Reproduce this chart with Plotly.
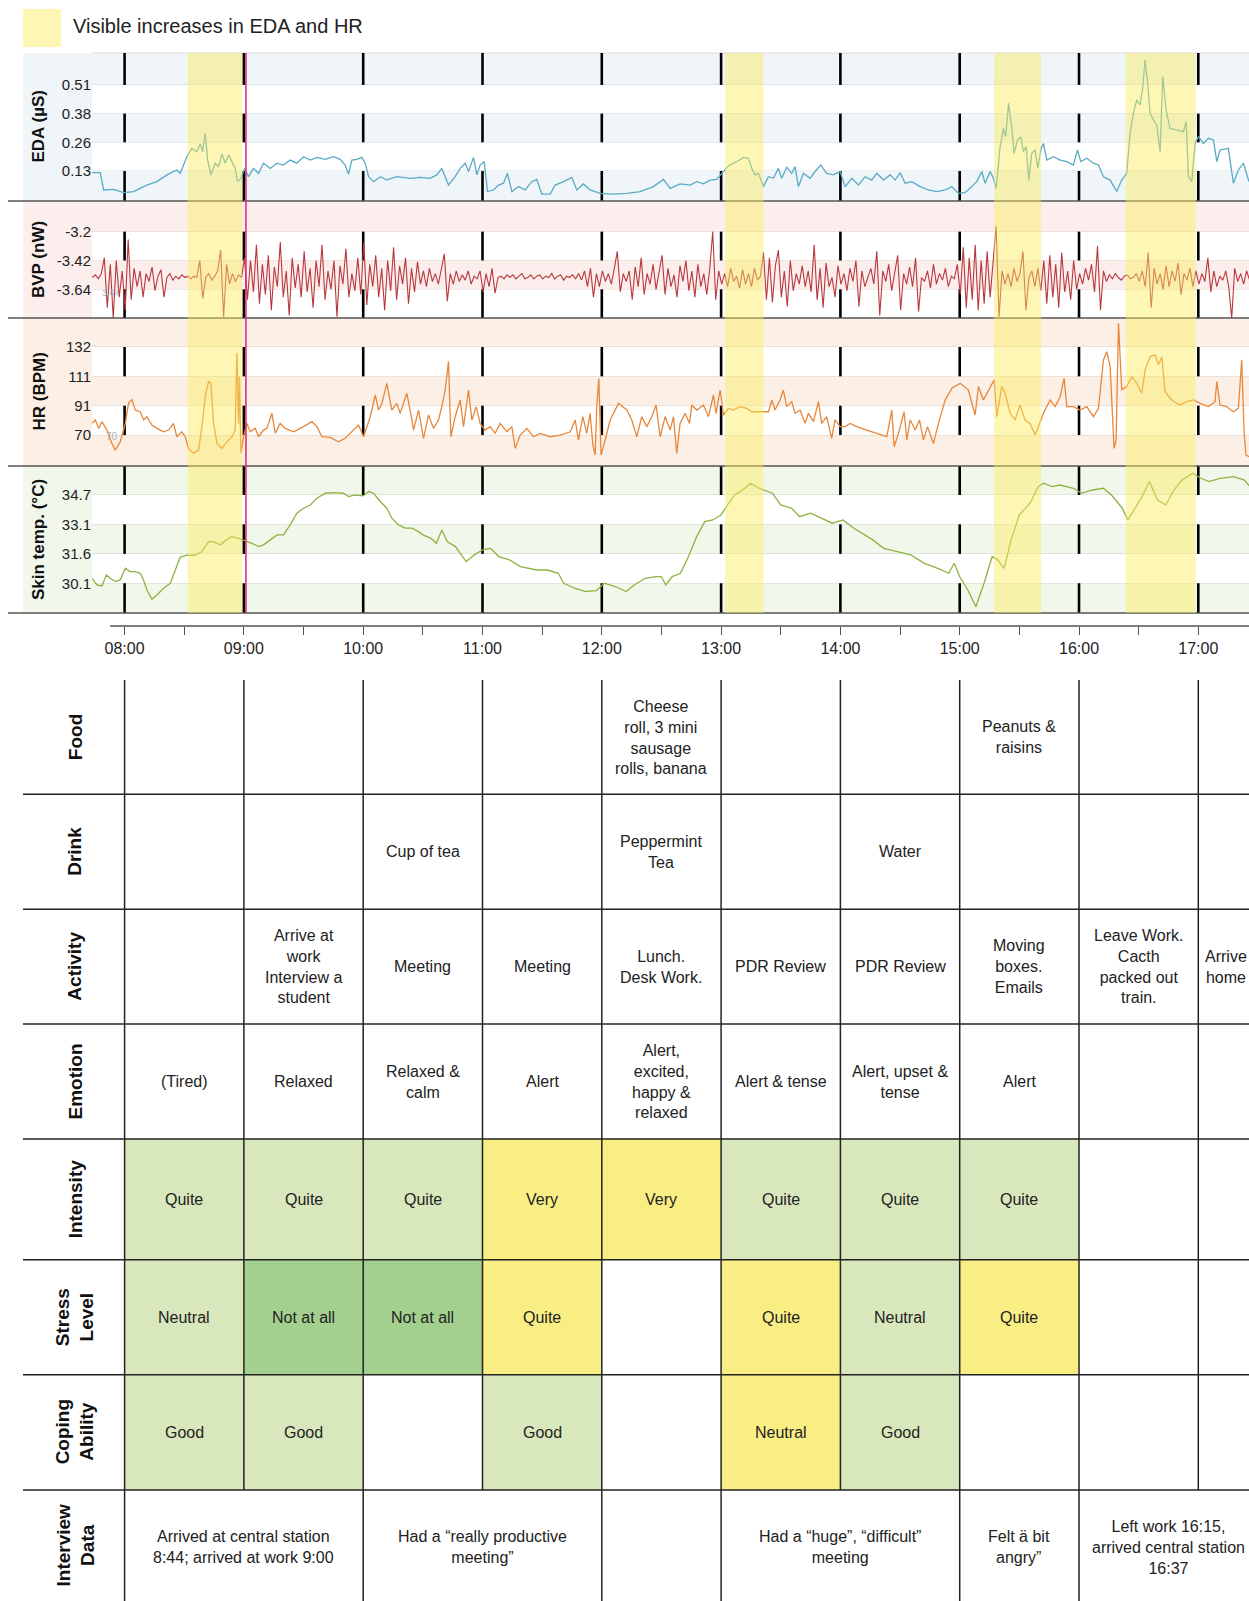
import plotly.graph_objects as go

W, H = 1249, 1601

# ---------------- DATA ----------------
legend_label = "Visible increases in EDA and HR"
highlight_spans = [(8.528, 8.984), (13.034, 13.355), (15.288, 15.682), (16.392, 16.978)]
marker_time = 9.017

hour_ticks = [8, 8.5, 9, 9.5, 10, 10.5, 11, 11.5, 12, 12.5, 13, 13.5, 14, 14.5, 15, 15.5, 16, 16.5, 17]
hour_labels = ["08:00", "", "09:00", "", "10:00", "", "11:00", "", "12:00", "", "13:00", "", "14:00", "",
               "15:00", "", "16:00", "", "17:00"]

eda_t = [7.727, 7.796, 7.824, 7.908, 7.992, 8.076, 8.131, 8.187, 8.271, 8.355, 8.438, 8.466, 8.522, 8.564,
         8.606, 8.634, 8.654, 8.676, 8.696, 8.723, 8.760, 8.788, 8.816, 8.844, 8.871, 8.905, 8.927, 8.947,
         8.975, 9.006, 9.039, 9.081, 9.123, 9.165, 9.221, 9.277, 9.332, 9.388, 9.444, 9.500, 9.556, 9.612,
         9.682, 9.752, 9.807, 9.849, 9.877, 9.905, 9.947, 9.989, 10.017, 10.045, 10.087, 10.143, 10.198,
         10.282, 10.366, 10.394, 10.478, 10.561, 10.617, 10.659, 10.715, 10.771, 10.813, 10.855, 10.883,
         10.925, 10.952, 10.980, 11.014, 11.042, 11.092, 11.134, 11.176, 11.209, 11.246, 11.302, 11.358,
         11.413, 11.455, 11.497, 11.567, 11.609, 11.679, 11.749, 11.790, 11.846, 11.902, 11.986, 12.098,
         12.209, 12.321, 12.433, 12.517, 12.573, 12.656, 12.740, 12.796, 12.852, 12.908, 12.964, 13.006,
         13.061, 13.103, 13.145, 13.187, 13.229, 13.257, 13.285, 13.313, 13.355, 13.397, 13.438, 13.480,
         13.508, 13.550, 13.592, 13.620, 13.648, 13.690, 13.746, 13.788, 13.835, 13.885, 13.941, 13.997,
         14.040, 14.096, 14.152, 14.207, 14.263, 14.305, 14.361, 14.417, 14.459, 14.501, 14.543, 14.599,
         14.668, 14.738, 14.808, 14.878, 14.934, 14.990, 15.045, 15.101, 15.143, 15.185, 15.213, 15.255,
         15.283, 15.305, 15.339, 15.367, 15.386, 15.409, 15.437, 15.456, 15.484, 15.512, 15.534, 15.557,
         15.579, 15.604, 15.632, 15.654, 15.682, 15.702, 15.730, 15.786, 15.842, 15.898, 15.953, 15.987,
         16.015, 16.065, 16.121, 16.163, 16.205, 16.261, 16.316, 16.358, 16.400, 16.428, 16.456, 16.484,
         16.512, 16.532, 16.554, 16.574, 16.596, 16.624, 16.652, 16.680, 16.702, 16.730, 16.763, 16.819,
         16.875, 16.898, 16.917, 16.945, 16.973, 17.001, 17.043, 17.085, 17.127, 17.155, 17.182, 17.252,
         17.294, 17.336, 17.378, 17.425]
eda_v = [0.120, 0.120, 0.043, 0.046, 0.031, 0.036, 0.050, 0.065, 0.080, 0.110, 0.132, 0.117, 0.191, 0.228,
         0.213, 0.248, 0.213, 0.295, 0.176, 0.110, 0.162, 0.147, 0.203, 0.162, 0.199, 0.159, 0.139, 0.080,
         0.095, 0.139, 0.102, 0.139, 0.117, 0.162, 0.139, 0.162, 0.154, 0.176, 0.162, 0.191, 0.176, 0.188,
         0.179, 0.191, 0.179, 0.154, 0.114, 0.176, 0.179, 0.188, 0.162, 0.102, 0.080, 0.102, 0.088,
         0.102, 0.095, 0.095, 0.099, 0.095, 0.110, 0.139, 0.065, 0.102, 0.139, 0.162, 0.125,
         0.188, 0.110, 0.154, 0.169, 0.036, 0.043, 0.065, 0.073, 0.117, 0.036, 0.058, 0.043,
         0.080, 0.090, 0.025, 0.025, 0.065, 0.080, 0.099, 0.043, 0.070, 0.043, 0.028, 0.025,
         0.028, 0.036, 0.058, 0.090, 0.050, 0.070, 0.065, 0.080, 0.070, 0.087, 0.090, 0.117,
         0.150, 0.162, 0.173, 0.188, 0.184, 0.139, 0.110, 0.117, 0.058, 0.102, 0.095, 0.139,
         0.095, 0.144, 0.117, 0.147, 0.058, 0.117, 0.095, 0.125, 0.154, 0.117, 0.110, 0.125,
         0.058, 0.095, 0.065, 0.102, 0.087, 0.117, 0.087, 0.110, 0.087, 0.120, 0.073, 0.080,
         0.058, 0.043, 0.036, 0.043, 0.058, 0.028, 0.031, 0.058, 0.080, 0.125, 0.073, 0.125,
         0.095, 0.050, 0.236, 0.317, 0.280, 0.428, 0.317, 0.206, 0.265, 0.280, 0.213, 0.236,
         0.087, 0.206, 0.221, 0.139, 0.228, 0.250, 0.176, 0.191, 0.176, 0.169, 0.154, 0.221,
         0.169, 0.184, 0.162, 0.154, 0.102, 0.087, 0.036, 0.087, 0.117, 0.295, 0.384, 0.443,
         0.421, 0.488, 0.621, 0.525, 0.384, 0.354, 0.332, 0.213, 0.547, 0.399, 0.317, 0.310,
         0.302, 0.347, 0.102, 0.080, 0.250, 0.280, 0.250, 0.273, 0.265, 0.169, 0.221, 0.228,
         0.073, 0.132, 0.162, 0.080]

bvp_start = 7.73
bvp_step = 0.025
bvp_v = [
    -3.55, -3.53, -3.56, -3.52, -3.40, -3.78, -3.45, -3.86, -3.42, -3.70,
    -3.50, -3.80, -3.26, -3.72, -3.48, -3.62, -3.50, -3.70, -3.52, -3.58,
    -3.47, -3.65, -3.54, -3.49, -3.70, -3.55, -3.52, -3.57, -3.54, -3.56,
    -3.53, -3.55, -3.54, -3.56, -3.54, -3.55, -3.42, -3.71, -3.55, -3.52,
    -3.57, -3.54, -3.50, -3.34, -3.85, -3.45, -3.60, -3.52, -3.58, -3.53,
    -3.55, -3.40, -3.72, -3.42, -3.66, -3.30, -3.75, -3.45, -3.68, -3.38,
    -3.80, -3.47, -3.62, -3.28, -3.70, -3.50, -3.84, -3.40, -3.63, -3.45,
    -3.70, -3.35, -3.66, -3.48, -3.78, -3.42, -3.62, -3.30, -3.72, -3.50,
    -3.64, -3.42, -3.85, -3.46, -3.60, -3.33, -3.70, -3.52, -3.65, -3.40,
    -3.68, -3.28, -3.76, -3.45, -3.62, -3.38, -3.70, -3.48, -3.80, -3.42,
    -3.65, -3.32, -3.72, -3.46, -3.60, -3.40, -3.75, -3.48, -3.66, -3.43,
    -3.60, -3.50, -3.62, -3.48, -3.58, -3.52, -3.60, -3.47, -3.37, -3.73,
    -3.52, -3.60, -3.50, -3.58, -3.53, -3.57, -3.50, -3.60, -3.54, -3.56,
    -3.50, -3.66, -3.52, -3.62, -3.48, -3.67, -3.55, -3.54, -3.56, -3.53,
    -3.55, -3.53, -3.56, -3.54, -3.52, -3.56, -3.55, -3.53, -3.56, -3.54,
    -3.53, -3.56, -3.54, -3.55, -3.52, -3.56, -3.54, -3.53, -3.57, -3.54,
    -3.55, -3.53, -3.56, -3.52, -3.57, -3.50, -3.62, -3.48, -3.70, -3.52,
    -3.62, -3.50, -3.58, -3.52, -3.60, -3.48, -3.35, -3.66, -3.52, -3.58,
    -3.50, -3.72, -3.47, -3.62, -3.40, -3.68, -3.52, -3.60, -3.45, -3.64,
    -3.50, -3.38, -3.68, -3.48, -3.62, -3.53, -3.70, -3.46, -3.58, -3.42,
    -3.65, -3.50, -3.70, -3.45, -3.62, -3.52, -3.68, -3.48, -3.20, -3.72,
    -3.50, -3.60, -3.52, -3.62, -3.48, -3.58, -3.54, -3.63, -3.49, -3.60,
    -3.52, -3.62, -3.48, -3.57, -3.54, -3.36, -3.72, -3.40, -3.74, -3.46,
    -3.34, -3.70, -3.50, -3.77, -3.42, -3.65, -3.52, -3.60, -3.46, -3.62,
    -3.50, -3.66, -3.30, -3.72, -3.48, -3.78, -3.44, -3.62, -3.55, -3.70,
    -3.46, -3.60, -3.52, -3.65, -3.48, -3.58, -3.42, -3.77, -3.50, -3.62,
    -3.55, -3.48, -3.60, -3.35, -3.84, -3.50, -3.58, -3.45, -3.65, -3.52,
    -3.38, -3.80, -3.52, -3.60, -3.47, -3.62, -3.40, -3.81, -3.55, -3.58,
    -3.50, -3.63, -3.45, -3.60, -3.52, -3.57, -3.48, -3.62, -3.54, -3.56,
    -3.45, -3.68, -3.32, -3.78, -3.40, -3.72, -3.30, -3.80, -3.42, -3.75,
    -3.35, -3.70, -3.46, -3.16, -3.85, -3.50, -3.60, -3.52, -3.62, -3.48,
    -3.58, -3.52, -3.35, -3.80, -3.55, -3.50, -3.62, -3.48, -3.65, -3.42,
    -3.75, -3.38, -3.70, -3.45, -3.78, -3.36, -3.66, -3.50, -3.72, -3.42,
    -3.64, -3.52, -3.60, -3.48, -3.57, -3.45, -3.66, -3.31, -3.80, -3.50,
    -3.58, -3.53, -3.56, -3.52, -3.55, -3.57, -3.54, -3.53, -3.56, -3.55,
    -3.52, -3.58, -3.50, -3.62, -3.36, -3.78, -3.48, -3.60, -3.52, -3.64,
    -3.46, -3.62, -3.50, -3.58, -3.44, -3.68, -3.52, -3.57, -3.48, -3.62,
    -3.50, -3.60, -3.52, -3.58, -3.40, -3.66, -3.50, -3.62, -3.54, -3.57,
    -3.50, -3.62, -3.86, -3.48, -3.58, -3.52, -3.60, -3.50, -3.57, -3.53,
]

hr_t = [7.727, 7.755, 7.782, 7.810, 7.852, 7.894, 7.922, 7.964, 8.006, 8.033, 8.061, 8.089, 8.131, 8.159,
        8.187, 8.229, 8.271, 8.327, 8.369, 8.410, 8.438, 8.480, 8.508, 8.536, 8.578, 8.620, 8.648, 8.676,
        8.704, 8.723, 8.746, 8.774, 8.816, 8.858, 8.900, 8.927, 8.941, 8.955, 8.963, 8.975, 8.997, 9.025,
        9.053, 9.095, 9.123, 9.165, 9.193, 9.235, 9.263, 9.304, 9.346, 9.416, 9.500, 9.570, 9.612, 9.654,
        9.723, 9.793, 9.849, 9.905, 9.961, 10.003, 10.059, 10.101, 10.129, 10.157, 10.198, 10.240, 10.282,
        10.310, 10.366, 10.408, 10.422, 10.464, 10.506, 10.547, 10.589, 10.631, 10.659, 10.687, 10.715,
        10.735, 10.771, 10.813, 10.841, 10.883, 10.911, 10.947, 10.980, 11.022, 11.064, 11.106, 11.148,
        11.204, 11.246, 11.274, 11.316, 11.372, 11.427, 11.483, 11.567, 11.651, 11.735, 11.777, 11.804,
        11.841, 11.874, 11.902, 11.925, 11.944, 11.958, 11.975, 11.994, 12.028, 12.070, 12.140, 12.210,
        12.251, 12.293, 12.335, 12.377, 12.419, 12.455, 12.489, 12.531, 12.573, 12.601, 12.628, 12.656,
        12.698, 12.735, 12.754, 12.796, 12.852, 12.894, 12.936, 12.958, 12.992, 13.020, 13.061, 13.103,
        13.159, 13.215, 13.257, 13.327, 13.397, 13.425, 13.452, 13.494, 13.522, 13.550, 13.592, 13.620,
        13.662, 13.704, 13.732, 13.774, 13.816, 13.843, 13.885, 13.927, 13.955, 13.997, 14.040, 14.082,
        14.138, 14.221, 14.305, 14.389, 14.431, 14.450, 14.487, 14.534, 14.557, 14.585, 14.627, 14.663,
        14.696, 14.730, 14.780, 14.822, 14.878, 14.934, 15.004, 15.073, 15.129, 15.157, 15.199, 15.241,
        15.289, 15.311, 15.353, 15.381, 15.423, 15.464, 15.506, 15.548, 15.590, 15.632, 15.674, 15.702,
        15.758, 15.800, 15.842, 15.875, 15.898, 15.953, 16.009, 16.065, 16.121, 16.163, 16.205, 16.233,
        16.261, 16.294, 16.311, 16.331, 16.358, 16.400, 16.442, 16.484, 16.526, 16.554, 16.596, 16.638,
        16.666, 16.694, 16.721, 16.777, 16.847, 16.903, 16.959, 17.015, 17.085, 17.140, 17.155, 17.182,
        17.238, 17.294, 17.336, 17.364, 17.384, 17.400, 17.425]
hr_v = [78.2, 80.6, 74.7, 79.4, 73.5, 64.1, 59.4, 65.3, 78.2, 92.3, 95.1, 87.6, 86.4, 80.6,
        82.9, 77.0, 74.7, 72.3, 73.5, 78.2, 68.8, 72.3, 68.8, 60.6, 57.1, 59.4, 75.9, 97.0,
        107.6, 106.4, 78.2, 64.1, 60.6, 65.3, 68.8, 73.5, 127.6, 78.2, 111.1, 57.1, 68.8, 78.2,
        72.3, 74.7, 68.8, 73.5, 74.7, 85.3, 71.2, 78.2, 74.7, 72.3, 75.9, 79.4, 75.9, 68.8,
        68.4, 65.3, 67.7, 72.3, 77.0, 68.8, 82.9, 98.2, 87.6, 92.3, 106.4, 87.6, 92.3,
        85.3, 99.4, 80.6, 73.5, 87.6, 67.7, 84.1, 74.7, 80.6, 90.0, 101.7, 121.7,
        68.8, 82.9, 94.7, 75.9, 101.7, 80.6, 90.0, 78.2, 73.5, 75.9, 71.2, 78.2,
        72.3, 75.9, 60.6, 70.0, 74.7, 68.8, 71.2, 68.8, 70.0, 72.3, 80.6, 66.5,
        82.9, 71.2, 85.3, 63.0, 55.9, 90.0, 109.9, 55.9, 66.5, 80.6, 92.3, 87.6,
        80.6, 68.8, 82.9, 75.9, 82.9, 91.1, 68.8, 82.9, 73.5, 82.9, 57.1, 78.2,
        85.3, 78.2, 91.1, 87.6, 91.1, 82.9, 98.2, 85.3, 101.7, 84.1, 88.8, 87.6,
        90.0, 88.8, 86.4, 86.4, 86.4, 94.7, 87.6, 94.7, 101.7, 90.0, 93.5, 85.3,
        87.6, 78.2, 85.3, 79.4, 93.5, 78.2, 82.9, 67.7, 80.6, 75.9, 75.9, 78.2,
        75.9, 73.5, 71.2, 68.8, 87.6, 61.8, 71.2, 86.4, 66.5, 80.6, 73.5, 80.6,
        66.5, 75.9, 64.1, 78.2, 94.7, 102.9, 106.4, 101.7, 84.1, 104.1, 94.7, 101.7,
        108.8, 82.9, 104.1, 99.4, 85.3, 80.6, 91.1, 80.6, 78.2, 70.0, 79.4, 85.3,
        94.7, 90.0, 97.0, 109.9, 90.0, 90.0, 87.6, 90.0, 82.9, 88.8, 122.9, 128.7,
        118.2, 60.6, 66.5, 148.7, 101.7, 104.1, 111.1, 106.4, 99.4, 115.8, 125.2, 126.4,
        119.3, 125.2, 100.5, 94.7, 91.1, 93.5, 94.7, 92.3, 90.0, 93.5, 107.6, 91.1,
        90.0, 86.4, 88.8, 122.9, 71.2, 55.9, 54.7]

temp_t = [7.727, 7.768, 7.810, 7.847, 7.880, 7.922, 7.964, 8.006, 8.047, 8.089, 8.131, 8.159, 8.187,
          8.229, 8.271, 8.327, 8.383, 8.424, 8.466, 8.522, 8.592, 8.648, 8.704, 8.746, 8.802, 8.844,
          8.899, 8.955, 9.011, 9.067, 9.123, 9.165, 9.221, 9.277, 9.332, 9.388, 9.444, 9.500, 9.556,
          9.612, 9.682, 9.752, 9.835, 9.877, 9.933, 10.003, 10.045, 10.087, 10.143, 10.198, 10.240,
          10.296, 10.352, 10.409, 10.464, 10.500, 10.568, 10.613, 10.659, 10.704, 10.773, 10.863,
          10.932, 11.000, 11.068, 11.136, 11.227, 11.318, 11.454, 11.545, 11.636, 11.681, 11.772,
          11.863, 11.954, 12.022, 12.113, 12.204, 12.272, 12.363, 12.454, 12.499, 12.536, 12.590,
          12.659, 12.727, 12.795, 12.863, 12.931, 12.999, 13.045, 13.113, 13.181, 13.249, 13.318,
          13.431, 13.499, 13.590, 13.659, 13.750, 13.840, 13.931, 14.022, 14.113, 14.204, 14.272,
          14.363, 14.477, 14.590, 14.704, 14.817, 14.908, 14.954, 14.999, 15.068, 15.136, 15.204,
          15.272, 15.318, 15.372, 15.431, 15.499, 15.590, 15.659, 15.704, 15.772, 15.840, 15.954,
          16.022, 16.113, 16.204, 16.272, 16.363, 16.409, 16.454, 16.522, 16.590, 16.659, 16.727,
          16.795, 16.863, 16.954, 17.022, 17.090, 17.181, 17.295, 17.386, 17.445]
temp_v = [30.36, 30.01, 29.96, 30.53, 30.36, 30.19, 30.27, 30.88, 30.71, 30.71, 30.62, 30.27, 29.75,
          29.27, 29.49, 29.84, 30.10, 30.79, 31.45, 31.56, 31.56, 31.75, 32.27, 32.27, 32.10, 32.32,
          32.53, 32.44, 32.32, 32.18, 32.01, 32.10, 32.36, 32.62, 32.62, 33.14, 33.75, 34.01, 34.18,
          34.53, 34.79, 34.82, 34.79, 34.62, 34.70, 34.65, 34.88, 34.79, 34.36, 34.01, 33.49,
          33.14, 32.97, 32.97, 32.79, 32.62, 32.44, 32.18, 32.88, 32.27, 32.01, 31.23,
          31.58, 31.84, 31.92, 31.49, 31.32, 30.97, 30.79, 30.79, 30.62, 30.10, 29.84,
          29.67, 29.72, 30.10, 29.93, 29.67, 30.01, 30.36, 30.45, 30.45, 30.01, 30.45,
          30.62, 31.49, 32.53, 33.31, 33.40, 33.66, 34.10, 34.70, 34.96, 35.31, 35.05,
          34.79, 34.18, 34.01, 33.57, 33.75, 33.49, 33.23, 33.40, 32.97, 32.62, 32.36,
          31.92, 31.75, 31.58, 31.14, 30.88, 30.62, 31.14, 30.45, 29.75, 28.88, 30.10,
          31.49, 31.32, 30.88, 32.36, 33.66, 34.27, 35.14, 35.31, 35.14, 35.22, 35.05,
          34.79, 34.96, 35.05, 34.70, 34.01, 33.40, 33.84, 34.53, 35.40, 34.44, 34.18,
          34.96, 35.48, 35.83, 35.57, 35.40, 35.57, 35.66, 35.48, 35.05]

# axis ticks
eda_ticks = [0.1275, 0.255, 0.3825, 0.51]
eda_ticktext = ["0.13", "0.26", "0.38", "0.51"]
bvp_ticks = [-3.64, -3.42, -3.2]
bvp_ticktext = ["-3.64", "-3.42", "-3.2"]
hr_ticks = [70, 90.67, 111.33, 132]
hr_ticktext = ["70", "91", "111", "132"]
temp_ticks = [30.1, 31.63, 33.17, 34.7]
temp_ticktext = ["30.1", "31.6", "33.1", "34.7"]

# table
col_edges = [8, 9, 10, 11, 12, 13, 14, 15, 16, 17, 17.47]
row_names = ["Food", "Drink", "Activity", "Emotion", "Intensity", "Stress<br>Level", "Coping<br>Ability",
             "Interview<br>Data"]
food = ["", "", "", "", "Cheese<br>roll, 3 mini<br>sausage<br>rolls, banana", "", "", "Peanuts &<br>raisins", "", ""]
drink = ["", "", "Cup of tea", "", "Peppermint<br>Tea", "", "Water", "", "", ""]
activity = ["", "Arrive at<br>work<br>Interview a<br>student", "Meeting", "Meeting", "Lunch.<br>Desk Work.",
            "PDR Review", "PDR Review", "Moving<br>boxes.<br>Emails", "Leave Work.<br>Cacth<br>packed out<br>train.",
            "Arrive<br>home"]
emotion = ["(Tired)", "Relaxed", "Relaxed &<br>calm", "Alert", "Alert,<br>excited,<br>happy &<br>relaxed",
           "Alert & tense", "Alert, upset &<br>tense", "Alert", "", ""]
intensity = ["Quite", "Quite", "Quite", "Very", "Very", "Quite", "Quite", "Quite", "", ""]
stress = ["Neutral", "Not at all", "Not at all", "Quite", "", "Quite", "Neutral", "Quite", "", ""]
coping = ["Good", "Good", "", "Good", "", "Neutral", "Good", "", "", ""]
interview = [(8, 10, "Arrived at central station<br>8:44; arrived at work 9:00"),
             (10, 12, "Had a “really productive<br>meeting”"),
             (12, 13, ""),
             (13, 15, "Had a “huge”, “difficult”<br>meeting"),
             (15, 16, "Felt ä bit<br>angry”"),
             (16, 17.5, "Left work 16:15,<br>arrived central station<br>16:37")]
intensity_colors = {"Quite": "#d9e7bc", "Very": "#f9ee84"}
stress_colors = {"Neutral": "#d9e7bc", "Not at all": "#a3cf8f", "Quite": "#f9ee84"}
coping_colors = {"Good": "#d9e7bc", "Neutral": "#f9ee84"}

# ---------------- LAYOUT HELPERS ----------------
def py(p):
    return 1 - p / H

def pxx(p):
    return p / W

NARROW = "Liberation Sans Narrow, Arial Narrow, Liberation Sans, Arial, sans-serif"
SANS = "Liberation Sans, Arial, sans-serif"
HL = "rgba(250,235,90,0.45)"

panels = [  # (axis id, top px, bottom px, range, ticks, ticktext, bg colour, line colour, title, width)
    ("y", 53, 201, [-0.006, 0.652], eda_ticks, eda_ticktext, "#eff5f9", "#5aaac5", "EDA (µS)", 1.3),
    ("y2", 201, 318, [-3.859, -2.966], bvp_ticks, bvp_ticktext, "#fbeeec", "#b8383d", "BVP (nW)", 1.1),
    ("y3", 318, 466, [48.2, 152.4], hr_ticks, hr_ticktext, "#fcf0e6", "#e8873a", "HR (BPM)", 1.3),
    ("y4", 466, 613, [28.55, 36.21], temp_ticks, temp_ticktext, "#f2f7ec", "#8db342", "Skin temp. (°C)", 1.3),
]

fig = go.Figure()
bvp_t = [bvp_start + i * bvp_step for i in range(len(bvp_v))]
series = [(eda_t, eda_v), (bvp_t, bvp_v), (hr_t, hr_v), (temp_t, temp_v)]
for (ax, top, bot, rng, tv, tt, bg, lc, title, lw), (xs, ys) in zip(panels, series):
    fig.add_trace(go.Scatter(x=xs, y=ys, xaxis="x", yaxis=ax, mode="lines",
                             line=dict(color=lc, width=lw), hoverinfo="skip", showlegend=False))

shapes = []
annotations = []

# panel backgrounds and white bands
for ax, top, bot, rng, tv, tt, bg, lc, title, lw in panels:
    shapes.append(dict(type="rect", xref="paper", yref="paper", x0=pxx(23), x1=1, y0=py(bot), y1=py(top),
                       fillcolor=bg, line=dict(width=0), layer="below"))
for ax, bands in [("y", [(0.3825, 0.51), (0.1275, 0.255)]),
                  ("y2", [(-3.42, -3.2), (-3.859, -3.64)]),
                  ("y3", [(111.33, 132), (70, 90.67)]),
                  ("y4", [(33.17, 34.7), (30.1, 31.63)])]:
    for a, b in bands:
        shapes.append(dict(type="rect", xref="paper", yref=ax, x0=pxx(92), x1=1, y0=a, y1=b,
                           fillcolor="white", line=dict(width=0), layer="below"))

# hour dashes (continuous dash pattern across panels)
dash_segments = [("y", [(0.51, 0.652), (0.255, 0.3825), (-0.006, 0.1275)]),
                 ("y2", [(-3.42, -3.2), (-3.859, -3.64)]),
                 ("y3", [(111.33, 132), (70, 90.67)]),
                 ("y4", [(34.7, 36.21), (31.63, 33.17), (28.55, 30.1)])]
for h in range(8, 18):
    for ax, segs in dash_segments:
        for a, b in segs:
            shapes.append(dict(type="line", xref="x", yref=ax, x0=h, x1=h, y0=a, y1=b,
                               line=dict(color="black", width=2.6), layer="below"))

# separators
for yy in [201, 318, 466, 613]:
    shapes.append(dict(type="line", xref="paper", yref="paper", x0=pxx(8), x1=1, y0=py(yy), y1=py(yy),
                       line=dict(color="#555555", width=1.5), layer="above"))
shapes.append(dict(type="line", xref="paper", yref="paper", x0=pxx(92), x1=1, y0=py(53), y1=py(53),
                   line=dict(color="#dddddd", width=1), layer="below"))

# highlights
for a, b in highlight_spans:
    shapes.append(dict(type="rect", xref="x", yref="paper", x0=a, x1=b, y0=py(613), y1=py(53),
                       fillcolor=HL, line=dict(width=0), layer="above"))
shapes.append(dict(type="line", xref="x", yref="paper", x0=marker_time, x1=marker_time, y0=py(613), y1=py(53),
                   line=dict(color="#e0306a", width=1.6), layer="above"))

# time axis line
shapes.append(dict(type="line", xref="paper", yref="paper", x0=pxx(110), x1=1, y0=py(626), y1=py(626),
                   line=dict(color="#555555", width=1.3)))

# legend
shapes.append(dict(type="rect", xref="paper", yref="paper", x0=pxx(23), x1=pxx(61), y0=py(47), y1=py(9),
                   fillcolor=HL, line=dict(width=0)))
annotations.append(dict(text=legend_label, xref="paper", yref="paper", x=pxx(71), y=py(26),
                        xanchor="left", yanchor="middle", showarrow=False,
                        font=dict(family=SANS, size=20, color="#222")))

# axis titles
for ax, top, bot, rng, tv, tt, bg, lc, title, lw in panels:
    annotations.append(dict(text="<b>%s</b>" % title, xref="paper", yref="paper", x=pxx(38.5),
                            y=py((top + bot) / 2), textangle=-90, showarrow=False,
                            xanchor="center", yanchor="middle", font=dict(family=SANS, size=17, color="#111")))

# faint overlapping labels
annotations.append(dict(text="3.64", xref="paper", yref="paper", x=pxx(100), y=py(285.5), showarrow=False,
                        font=dict(family=SANS, size=9, color="#9fb3c2")))
annotations.append(dict(text="70", xref="paper", yref="paper", x=pxx(104), y=py(429), showarrow=False,
                        font=dict(family=SANS, size=10, color="#9fb3c2")))

# ---------------- TABLE ----------------
row_edges = [680, 794.3, 909.3, 1024, 1139, 1259.7, 1374.7, 1490, 1605]
LINE = dict(color="#222222", width=1.5)
CELLFONT = dict(family=SANS, size=16, color="#222")

# colored cells
for r, (vals, cmap) in zip([4, 5, 6], [(intensity, intensity_colors), (stress, stress_colors),
                                       (coping, coping_colors)]):
    for c, v in enumerate(vals):
        if v in cmap:
            shapes.append(dict(type="rect", xref="x", yref="paper", x0=col_edges[c], x1=col_edges[c + 1],
                               y0=py(row_edges[r + 1]), y1=py(row_edges[r]), fillcolor=cmap[v],
                               line=dict(width=0), layer="below"))

# horizontal lines
for yy in row_edges[1:-1]:
    shapes.append(dict(type="line", xref="paper", yref="paper", x0=pxx(23), x1=1, y0=py(yy), y1=py(yy),
                       line=LINE))
# vertical lines (rows 1..7)
for e in col_edges[:-1]:
    shapes.append(dict(type="line", xref="x", yref="paper", x0=e, x1=e, y0=py(row_edges[7]),
                       y1=py(row_edges[0]), line=LINE))
# interview row lines
for a, b, t in interview:
    shapes.append(dict(type="line", xref="x", yref="paper", x0=a, x1=a, y0=py(1601), y1=py(row_edges[7]),
                       line=LINE))

# row labels
for r, name in enumerate(row_names):
    annotations.append(dict(text="<b>%s</b>" % name, xref="paper", yref="paper", x=pxx(75),
                            y=py((row_edges[r] + row_edges[r + 1]) / 2 - (2 if r == 7 else 0)),
                            textangle=-90, showarrow=False, xanchor="center", yanchor="middle",
                            font=dict(family=SANS, size=19, color="#111")))

# cell texts
for r, vals in enumerate([food, drink, activity, emotion, intensity, stress, coping]):
    yc = py((row_edges[r] + row_edges[r + 1]) / 2)
    for c, v in enumerate(vals):
        if v:
            annotations.append(dict(text=v, xref="x", yref="paper", x=(col_edges[c] + col_edges[c + 1]) / 2,
                                    y=yc, showarrow=False, xanchor="center", yanchor="middle", font=CELLFONT))
for a, b, t in interview:
    if t:
        annotations.append(dict(text=t, xref="x", yref="paper", x=(a + b) / 2, y=py(1547), showarrow=False,
                                xanchor="center", yanchor="middle", font=CELLFONT))

axis_common = dict(showgrid=True, gridcolor="rgba(0,0,0,0.07)", gridwidth=1, zeroline=False,
                   showline=False, ticks="", anchor="x", fixedrange=True,
                   tickfont=dict(family=NARROW, size=15, color="#222"), automargin=False)
layout_axes = {}
for ax, top, bot, rng, tv, tt, bg, lc, title, lw in panels:
    name = "yaxis" if ax == "y" else "yaxis" + ax[1:]
    layout_axes[name] = dict(domain=[py(bot), py(top)], range=rng, tickvals=tv, ticktext=tt, **axis_common)

fig.update_layout(
    width=W, height=H, autosize=False,
    margin=dict(l=0, r=0, t=0, b=0, pad=0),
    paper_bgcolor="white", plot_bgcolor="rgba(0,0,0,0)",
    showlegend=False, hovermode=False,
    xaxis=dict(domain=[pxx(92), 1], range=[7.7268, 17.4249], anchor="free", position=py(626),
               tickvals=hour_ticks, ticktext=hour_labels, ticks="outside", ticklen=8, tickwidth=1.2,
               tickcolor="#555555", showgrid=False, zeroline=False, showline=False, fixedrange=True,
               tickfont=dict(family=NARROW, size=16, color="#222"), automargin=False),
    shapes=shapes, annotations=annotations,
    **layout_axes,
)

fig.write_html("out.html", config={"displayModeBar": False},
               post_script="document.body.style.margin='0px';document.body.style.overflow='hidden';"
                           "document.documentElement.style.overflow='hidden';")
